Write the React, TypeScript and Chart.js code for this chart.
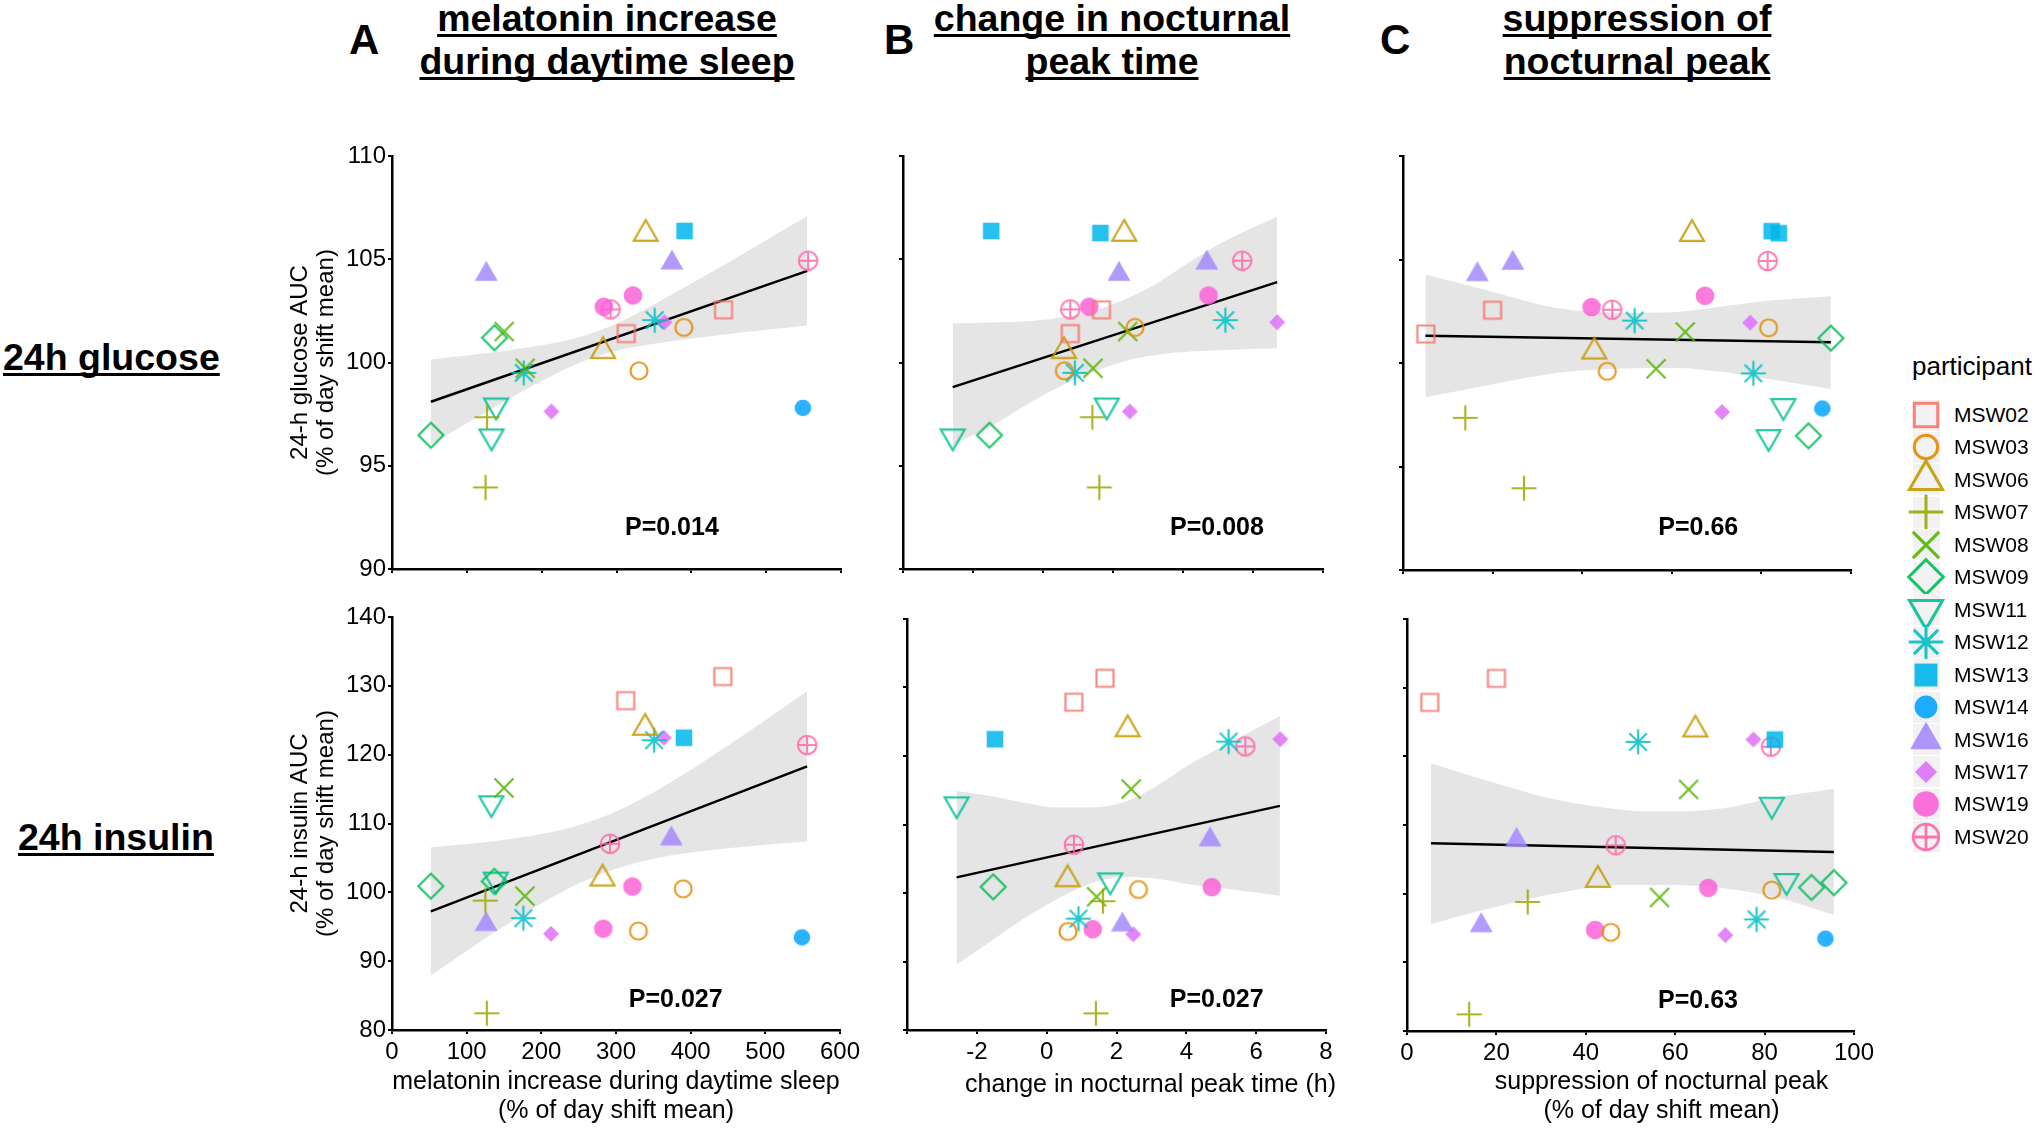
import { useEffect, useRef } from "react";
import { Chart, registerables } from "chart.js";

Chart.register(...registerables);

const FONT = "'Liberation Sans', Arial, Helvetica, sans-serif";

// ---- data (two visits per participant; null = not measured) ----
const participants = [
  "MSW02", "MSW03", "MSW06", "MSW07", "MSW08", "MSW09", "MSW11",
  "MSW12", "MSW13", "MSW14", "MSW16", "MSW17", "MSW19", "MSW20",
];

// melatonin increase during daytime sleep (% of day shift mean)
const melatoninIncrease = [
  [313, 443], [330, 390], [282, 339], [127, 125], [150, 178], [137, 52], [139, 133],
  [176, 351], [391, null], [549], [126, 374], [213, 364], [283, 322], [292, 556],
];

// change in nocturnal peak time (h)
const peakTimeChange = [
  [0.78, 1.67], [0.61, 2.63], [0.6, 2.32], [1.41, 1.61], [2.42, 1.43], [null, -1.53], [1.82, -2.58],
  [0.91, 5.21], [-1.48, 1.64], [null], [2.17, 4.68], [2.48, 6.69], [1.32, 4.73], [0.78, 5.69],
];

// suppression of nocturnal peak (% of day shift mean)
const peakSuppression = [
  [5.1, 20.0], [45.6, 81.6], [42.7, 64.5], [13.9, 27.0], [63.0, 56.5], [95.5, 90.5], [84.9, 81.6],
  [78.2, 51.7], [82.3, 83.9], [93.6], [16.6, 24.5], [71.2, 77.5], [42.1, 67.4], [46.7, 81.4],
];

// 24-h glucose AUC (% of day shift mean)
const glucoseAuc = [
  [101.4, 102.55], [99.6, 101.7], [100.55, 106.23], [97.35, 93.95], [101.5, 99.72], [101.2, 96.48], [97.92, 96.42],
  [99.5, 102.05], [106.37, 106.27], [97.8], [104.28, 104.83], [97.63, 101.95], [102.7, 103.25], [102.57, 104.93],
];

// 24-h insulin AUC (% of day shift mean)
const insulinAuc = [
  [127.85, 131.35], [94.38, 100.52], [102.0, 123.9], [82.43, 98.8], [115.17, 99.45], [101.6, 100.9], [101.85, 112.95],
  [96.25, 122.1], [122.45, null], [93.45], [95.37, 107.8], [93.97, 122.45], [94.72, 100.85], [107.05, 121.4],
];

// fitted lines and confidence bands
const fitMelGluX = [52, 555];
const fitMelGluY = [98.1, 104.44];
const bandMelGluX = [52, 100, 150, 200, 250, 300, 350, 400, 450, 500, 555];
const bandMelGluUpper = [100.15, 100.34, 100.56, 100.83, 101.22, 101.89, 102.81, 103.82, 104.86, 105.92, 107.09];
const bandMelGluLower = [96.05, 97.06, 98.1, 99.1, 99.98, 100.57, 100.91, 101.16, 101.38, 101.58, 101.79];

const fitMelInsX = [52, 556];
const fitMelInsY = [97.24, 118.3];
const bandMelInsX = [52, 100, 150, 200, 250, 300, 350, 400, 450, 500, 556];
const bandMelInsUpper = [106.54, 107.01, 107.62, 108.46, 109.75, 111.76, 114.52, 117.78, 121.32, 124.99, 129.2];
const bandMelInsLower = [87.94, 91.49, 95.06, 98.38, 101.27, 103.44, 104.86, 105.78, 106.42, 106.93, 107.4];

const fitPeakGluX = [-2.58, 6.69];
const fitPeakGluY = [98.81, 103.89];
const bandPeakGluX = [-2.58, -1.5, -0.55, 0.4, 1.35, 2.3, 3.26, 4.21, 5.16, 6.69];
const bandPeakGluUpper = [101.9, 101.94, 101.98, 102.15, 102.47, 103.03, 103.84, 104.89, 105.85, 107.06];
const bandPeakGluLower = [96.02, 96.9, 97.87, 98.76, 99.48, 100.05, 100.37, 100.53, 100.61, 100.69];

const fitPeakInsX = [-2.58, 6.68];
const fitPeakInsY = [102.28, 112.72];
const bandPeakInsX = [-2.58, -1.62, -0.67, 0.29, 1.24, 2.19, 3.15, 4.1, 5.06, 6.68];
const bandPeakInsUpper = [114.9, 114.17, 113.2, 112.48, 112.48, 113.2, 115.63, 118.79, 121.46, 125.83];
const bandPeakInsLower = [89.56, 92.9, 96.2, 99.1, 101.35, 102.33, 102.07, 101.24, 100.69, 99.61];

const fitSupGluX = [5, 95.5];
const fitSupGluY = [101.32, 101.0];
const bandSupGluX = [5, 19.5, 34.3, 49.2, 60.4, 71.5, 82.7, 95.5];
const bandSupGluUpper = [104.27, 103.47, 102.66, 102.42, 102.45, 102.74, 103.03, 103.23];
const bandSupGluLower = [98.34, 98.95, 99.52, 99.73, 99.76, 99.56, 99.19, 98.74];

const fitSupInsX = [5.36, 95.5];
const fitSupInsY = [107.35, 106.08];
const bandSupInsX = [5.36, 18.6, 33.5, 48.4, 59.6, 70.7, 81.9, 95.5];
const bandSupInsUpper = [119.0, 116.33, 113.66, 112.2, 111.96, 112.45, 113.9, 115.27];
const bandSupInsLower = [95.59, 97.87, 100.06, 101.27, 101.27, 100.79, 99.57, 96.9];

// ---- styling ----
const markerColors = [
  "#F8766D", "#E38900", "#C49A00", "#99A800", "#53B400", "#00BC56", "#00C094",
  "#00BFC4", "#00B6EB", "#06A4FF", "#A58AFF", "#DF70F8", "#FB61D7", "#FF66A8",
];
const markerShapes = [
  "square", "circle", "triangle", "plus", "cross", "diamond", "dtriangle",
  "asterisk", "squareF", "circleS", "triangleF", "diamondF", "circleF", "circlePlus",
];

function triangle(ctx: CanvasRenderingContext2D, xc: number, dir: number) {
  const r = 1.1547 * xc;
  const yc = 0.5774 * xc;
  ctx.moveTo(0, -dir * r);
  ctx.lineTo(xc, dir * yc);
  ctx.lineTo(-xc, dir * yc);
  ctx.closePath();
}

function drawShape(ctx: CanvasRenderingContext2D, shape: string, color: string, s: number) {
  ctx.strokeStyle = color;
  ctx.fillStyle = color;
  ctx.lineWidth = 2.2 * s;
  ctx.beginPath();
  switch (shape) {
    case "square":
      ctx.rect(-8.5 * s, -8.5 * s, 17 * s, 17 * s);
      ctx.stroke();
      break;
    case "circle":
      ctx.arc(0, 0, 8.5 * s, 0, Math.PI * 2);
      ctx.stroke();
      break;
    case "triangle":
      triangle(ctx, 12 * s, 1);
      ctx.stroke();
      break;
    case "dtriangle":
      triangle(ctx, 12 * s, -1);
      ctx.stroke();
      break;
    case "plus":
      ctx.moveTo(-12.5 * s, 0); ctx.lineTo(12.5 * s, 0);
      ctx.moveTo(0, -12.5 * s); ctx.lineTo(0, 12.5 * s);
      ctx.stroke();
      break;
    case "cross":
      ctx.moveTo(-9.5 * s, -9.5 * s); ctx.lineTo(9.5 * s, 9.5 * s);
      ctx.moveTo(9.5 * s, -9.5 * s); ctx.lineTo(-9.5 * s, 9.5 * s);
      ctx.stroke();
      break;
    case "diamond":
      ctx.moveTo(0, -12.5 * s); ctx.lineTo(12.5 * s, 0);
      ctx.lineTo(0, 12.5 * s); ctx.lineTo(-12.5 * s, 0);
      ctx.closePath();
      ctx.stroke();
      break;
    case "asterisk":
      ctx.moveTo(-12.5 * s, 0); ctx.lineTo(12.5 * s, 0);
      ctx.moveTo(0, -12.5 * s); ctx.lineTo(0, 12.5 * s);
      ctx.moveTo(-8.8 * s, -8.8 * s); ctx.lineTo(8.8 * s, 8.8 * s);
      ctx.moveTo(8.8 * s, -8.8 * s); ctx.lineTo(-8.8 * s, 8.8 * s);
      ctx.stroke();
      break;
    case "squareF":
      ctx.rect(-8.3 * s, -8.3 * s, 16.6 * s, 16.6 * s);
      ctx.fill();
      break;
    case "circleS":
      ctx.arc(0, 0, 8.3 * s, 0, Math.PI * 2);
      ctx.fill();
      break;
    case "triangleF":
      triangle(ctx, 11.5 * s, 1);
      ctx.fill();
      break;
    case "diamondF":
      ctx.moveTo(0, -8 * s); ctx.lineTo(8 * s, 0);
      ctx.lineTo(0, 8 * s); ctx.lineTo(-8 * s, 0);
      ctx.closePath();
      ctx.fill();
      break;
    case "circleF":
      ctx.arc(0, 0, 9.3 * s, 0, Math.PI * 2);
      ctx.fill();
      break;
    case "circlePlus":
      ctx.lineWidth = 2 * s;
      ctx.arc(0, 0, 9.3 * s, 0, Math.PI * 2);
      ctx.moveTo(-9.3 * s, 0); ctx.lineTo(9.3 * s, 0);
      ctx.moveTo(0, -9.3 * s); ctx.lineTo(0, 9.3 * s);
      ctx.stroke();
      break;
  }
}

function makeMarker(shape: string, color: string, s: number) {
  const size = Math.ceil(32 * s);
  const c = document.createElement("canvas");
  c.width = size;
  c.height = size;
  const ctx = c.getContext("2d")!;
  ctx.translate(size / 2, size / 2);
  ctx.globalAlpha = 0.85;
  drawShape(ctx, shape, color, s);
  return c;
}

const pValuePlugin = {
  id: "pValue",
  afterDatasetsDraw(chart: any, _args: any, opts: any) {
    const { ctx, scales } = chart;
    const x = scales.x.getPixelForValue(opts.x);
    const y = scales.y.getPixelForValue(opts.y);
    ctx.save();
    ctx.font = `bold 25px ${FONT}`;
    ctx.fillStyle = "#000";
    ctx.textAlign = "center";
    ctx.textBaseline = "middle";
    ctx.fillText(opts.text, x, y);
    ctx.restore();
  },
};

// x-axis title, drawn below the tick labels (offset horizontally like the original)
const xTitlePlugin = {
  id: "xTitle",
  afterDraw(chart: any, _args: any, opts: any) {
    if (!opts.lines || !opts.lines.length) return;
    const { ctx, chartArea } = chart;
    const cx = (chartArea.left + chartArea.right) / 2 + opts.dx;
    ctx.save();
    ctx.font = `25px ${FONT}`;
    ctx.fillStyle = "#000";
    ctx.textAlign = "center";
    ctx.textBaseline = "middle";
    opts.lines.forEach((line: string, i: number) => {
      ctx.fillText(line, cx, chartArea.bottom + opts.firstOffset + i * 29);
    });
    ctx.restore();
  },
};

type Box = { l: number; r: number; t: number; b: number };
type PanelCfg = {
  key: string;
  xs: (number | null)[][];
  ys: (number | null)[][];
  xMin: number; xMax: number; xStep: number; hideTick?: number;
  yMin: number; yMax: number; yStep: number;
  fitX: number[]; fitY: number[];
  bandX: number[]; bandUpper: number[]; bandLower: number[];
  p: string; pAt: [number, number];
  box: Box;
  yTitle?: string[];
  xTitle?: string[];
  xTitleDx?: number;
  xTitleY?: number;
};

const GLU_TITLE = ["24-h glucose AUC", "(% of day shift mean)"];
const INS_TITLE = ["24-h insulin AUC", "(% of day shift mean)"];

const panels: PanelCfg[] = [
  {
    key: "A1", xs: melatoninIncrease, ys: glucoseAuc, xMin: 0, xMax: 600, xStep: 100,
    yMin: 90, yMax: 110, yStep: 5, fitX: fitMelGluX, fitY: fitMelGluY,
    bandX: bandMelGluX, bandUpper: bandMelGluUpper, bandLower: bandMelGluLower,
    p: "P=0.014", pAt: [374, 92], box: { l: 392, r: 841, t: 156, b: 569 }, yTitle: GLU_TITLE,
  },
  {
    key: "B1", xs: peakTimeChange, ys: glucoseAuc, xMin: -4, xMax: 8, xStep: 2, hideTick: -4,
    yMin: 90, yMax: 110, yStep: 5, fitX: fitPeakGluX, fitY: fitPeakGluY,
    bandX: bandPeakGluX, bandUpper: bandPeakGluUpper, bandLower: bandPeakGluLower,
    p: "P=0.008", pAt: [4.97, 92], box: { l: 902, r: 1323, t: 156, b: 569 },
  },
  {
    key: "C1", xs: peakSuppression, ys: glucoseAuc, xMin: 0, xMax: 100, xStep: 20,
    yMin: 90, yMax: 110, yStep: 5, fitX: fitSupGluX, fitY: fitSupGluY,
    bandX: bandSupGluX, bandUpper: bandSupGluUpper, bandLower: bandSupGluLower,
    p: "P=0.66", pAt: [65.9, 92], box: { l: 1402, r: 1851, t: 156, b: 570 },
  },
  {
    key: "A2", xs: melatoninIncrease, ys: insulinAuc, xMin: 0, xMax: 600, xStep: 100,
    yMin: 80, yMax: 140, yStep: 10, fitX: fitMelInsX, fitY: fitMelInsY,
    bandX: bandMelInsX, bandUpper: bandMelInsUpper, bandLower: bandMelInsLower,
    p: "P=0.027", pAt: [380, 84.3], box: { l: 392, r: 840, t: 617, b: 1030 }, yTitle: INS_TITLE,
    xTitle: ["melatonin increase during daytime sleep", "(% of day shift mean)"], xTitleDx: 0, xTitleY: 1082,
  },
  {
    key: "B2", xs: peakTimeChange, ys: insulinAuc, xMin: -4, xMax: 8, xStep: 2, hideTick: -4,
    yMin: 80, yMax: 140, yStep: 10, fitX: fitPeakInsX, fitY: fitPeakInsY,
    bandX: bandPeakInsX, bandUpper: bandPeakInsUpper, bandLower: bandPeakInsLower,
    p: "P=0.027", pAt: [4.87, 84.3], box: { l: 906, r: 1326, t: 619, b: 1030 },
    xTitle: ["change in nocturnal peak time (h)"], xTitleDx: 34, xTitleY: 1085,
  },
  {
    key: "C2", xs: peakSuppression, ys: insulinAuc, xMin: 0, xMax: 100, xStep: 20,
    yMin: 80, yMax: 140, yStep: 10, fitX: fitSupInsX, fitY: fitSupInsY,
    bandX: bandSupInsX, bandUpper: bandSupInsUpper, bandLower: bandSupInsLower,
    p: "P=0.63", pAt: [65.1, 84.3], box: { l: 1406, r: 1854, t: 619, b: 1031 },
    xTitle: ["suppression of nocturnal peak", "(% of day shift mean)"], xTitleDx: 31, xTitleY: 1082,
  },
];

const PAD_TOP = 16;
const PAD_RIGHT = 40;

function ScatterPanel({ cfg }: { cfg: PanelCfg }) {
  const canvasRef = useRef<HTMLCanvasElement>(null);
  const chartRef = useRef<Chart | null>(null);
  const yw = cfg.yTitle ? 122 : 10;
  const xh = cfg.xTitle ? 1132 - cfg.box.b : 12;
  const width = cfg.box.r - cfg.box.l + yw + PAD_RIGHT;
  const height = cfg.box.b - cfg.box.t + PAD_TOP + xh;

  useEffect(() => {
    if (!canvasRef.current) return;
    if (chartRef.current) chartRef.current.destroy();

    const pointSets = participants.map((name, i) => ({
      type: "scatter",
      label: name,
      data: cfg.xs[i]
        .map((x, j) => ({ x, y: cfg.ys[i][j] }))
        .filter((d) => d.x != null && d.y != null),
      pointStyle: makeMarker(markerShapes[i], markerColors[i], 1),
      pointRadius: 10,
      clip: false,
      order: 0,
    }));

    const fitLine = {
      type: "line",
      data: cfg.fitX.map((x, i) => ({ x, y: cfg.fitY[i] })),
      borderColor: "#000",
      borderWidth: 2.5,
      pointRadius: 0,
      fill: false,
      order: 1,
    };
    const bandUpper = {
      type: "line",
      data: cfg.bandX.map((x, i) => ({ x, y: cfg.bandUpper[i] })),
      borderColor: "rgba(0,0,0,0)",
      borderWidth: 0,
      pointRadius: 0,
      cubicInterpolationMode: "monotone",
      backgroundColor: "rgba(153,153,153,0.25)",
      fill: "+1",
      order: 2,
    };
    const bandLower = {
      type: "line",
      data: cfg.bandX.map((x, i) => ({ x, y: cfg.bandLower[i] })),
      borderColor: "rgba(0,0,0,0)",
      borderWidth: 0,
      pointRadius: 0,
      cubicInterpolationMode: "monotone",
      fill: false,
      order: 3,
    };

    const axisGrid = {
      display: true,
      drawOnChartArea: false,
      drawTicks: true,
      tickLength: 4,
      color: "#000",
      lineWidth: 2,
    };
    const axisBorder = { display: true, color: "#000", width: 2.5 };

    chartRef.current = new Chart(canvasRef.current, {
      type: "scatter",
      data: { datasets: [...pointSets, fitLine, bandUpper, bandLower] as any },
      options: {
        responsive: false,
        animation: false,
        events: [],
        layout: { padding: { top: PAD_TOP, right: PAD_RIGHT, left: 0, bottom: 0 } },
        plugins: {
          legend: { display: false },
          tooltip: { enabled: false },
          pValue: { text: cfg.p, x: cfg.pAt[0], y: cfg.pAt[1] },
          xTitle: {
            lines: cfg.xTitle || [],
            dx: cfg.xTitleDx || 0,
            firstOffset: (cfg.xTitleY || 0) - cfg.box.b,
          },
        } as any,
        scales: {
          x: {
            type: "linear",
            min: cfg.xMin,
            max: cfg.xMax,
            grid: axisGrid,
            border: axisBorder,
            ticks: {
              display: !!cfg.xTitle,
              stepSize: cfg.xStep,
              autoSkip: false,
              maxRotation: 0,
              padding: 4,
              color: "#000",
              font: { family: FONT, size: 24 },
              callback: (v: any) => (v === cfg.hideTick ? "" : String(v)),
            },
            afterFit: (scale: any) => {
              scale.height = xh;
              scale.paddingLeft = 0;
              scale.paddingRight = 0;
            },
          },
          y: {
            type: "linear",
            min: cfg.yMin,
            max: cfg.yMax,
            grid: axisGrid,
            border: axisBorder,
            ticks: {
              display: !!cfg.yTitle,
              stepSize: cfg.yStep,
              autoSkip: false,
              padding: 2,
              color: "#000",
              font: { family: FONT, size: 24 },
            },
            title: {
              display: !!cfg.yTitle,
              text: cfg.yTitle || "",
              color: "#000",
              font: { family: FONT, size: 24, lineHeight: 1.08 },
              padding: { top: 17, bottom: 0 },
            },
            afterFit: (scale: any) => {
              scale.width = yw;
              scale.paddingTop = 0;
              scale.paddingBottom = 0;
            },
          },
        },
      } as any,
      plugins: [pValuePlugin as any, xTitlePlugin as any],
    });

    return () => {
      if (chartRef.current) {
        chartRef.current.destroy();
        chartRef.current = null;
      }
    };
  }, [cfg]);

  return (
    <canvas
      ref={canvasRef}
      width={width}
      height={height}
      style={{ position: "absolute", left: cfg.box.l - yw, top: cfg.box.t - PAD_TOP, width, height }}
    />
  );
}

function LegendKey({ index, top }: { index: number; top: number }) {
  const ref = useRef<HTMLCanvasElement>(null);
  useEffect(() => {
    const c = ref.current;
    if (!c) return;
    const ctx = c.getContext("2d")!;
    ctx.clearRect(0, 0, c.width, c.height);
    ctx.save();
    ctx.translate(c.width / 2, c.height / 2);
    ctx.globalAlpha = 0.9;
    drawShape(ctx, markerShapes[index], markerColors[index], 1.38);
    ctx.restore();
  }, [index]);
  return (
    <>
      <div style={{ position: "absolute", left: 1913, top: top - 15.5, width: 27, height: 31, background: "#F2F2F2" }} />
      <canvas ref={ref} width={48} height={48} style={{ position: "absolute", left: 1902, top: top - 24, width: 48, height: 48 }} />
      <div style={{ position: "absolute", left: 1954, top: top - 16, height: 32, lineHeight: "32px", fontSize: 21 }}>
        {participants[index]}
      </div>
    </>
  );
}

const underline = {
  textDecoration: "underline",
  textDecorationThickness: "3px",
  textUnderlineOffset: "3px",
  textDecorationSkipInk: "none",
} as const;

const columnTitles = [
  { letter: "A", letterLeft: 349, center: 607, lines: ["melatonin increase", "during daytime sleep"] },
  { letter: "B", letterLeft: 884, center: 1112, lines: ["change in nocturnal", "peak time"] },
  { letter: "C", letterLeft: 1380, center: 1637, lines: ["suppression of", "nocturnal peak"] },
];

export default function App() {
  return (
    <div
      style={{
        position: "absolute", left: 0, top: 0, width: 2040, height: 1132,
        background: "#fff", color: "#000", fontFamily: FONT, overflow: "hidden",
      }}
    >
      {columnTitles.map((c) => (
        <div key={c.letter}>
          <div style={{ position: "absolute", left: c.letterLeft, top: 19, fontSize: 42, fontWeight: "bold", lineHeight: "42px" }}>
            {c.letter}
          </div>
          <div
            style={{
              position: "absolute", left: c.center - 300, width: 600, top: -3, textAlign: "center",
              fontSize: 37.5, fontWeight: "bold", lineHeight: "43px",
            }}
          >
            {c.lines.map((l) => (
              <div key={l}><span style={underline}>{l}</span></div>
            ))}
          </div>
        </div>
      ))}

      <div style={{ position: "absolute", left: 3, top: 338, fontSize: 37.5, fontWeight: "bold", lineHeight: "38px", ...underline }}>
        24h glucose
      </div>
      <div style={{ position: "absolute", left: 18, top: 818, fontSize: 37.5, fontWeight: "bold", lineHeight: "38px", ...underline }}>
        24h insulin
      </div>

      {panels.map((p) => (
        <ScatterPanel key={p.key} cfg={p} />
      ))}

      <div style={{ position: "absolute", left: 1912, top: 353, fontSize: 26, lineHeight: "26px" }}>participant</div>
      {participants.map((_, i) => (
        <LegendKey key={i} index={i} top={415 + 32.45 * i} />
      ))}
    </div>
  );
}
